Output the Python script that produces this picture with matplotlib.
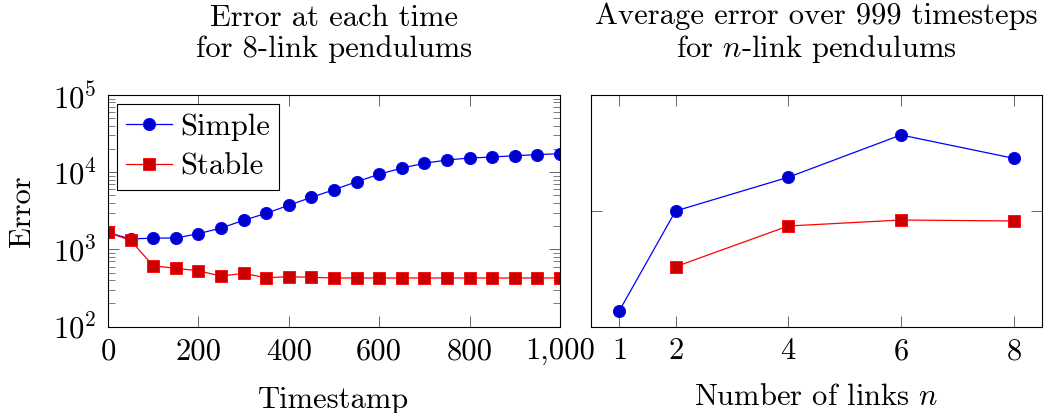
import matplotlib
matplotlib.use('Agg')
import matplotlib.pyplot as plt
import matplotlib.ticker as mticker
import numpy as np

plt.rcParams['font.family'] = 'serif'
plt.rcParams['font.serif'] = ['cmr10']
plt.rcParams['mathtext.fontset'] = 'cm'
plt.rcParams['axes.formatter.use_mathtext'] = True
plt.rcParams['font.size'] = 22

# left panel: error per timestamp, 8-link pendulums
timestamps = [0, 50, 100, 150, 200, 250, 300, 350, 400, 450, 500,
              550, 600, 650, 700, 750, 800, 850, 900, 950, 1000]
simple_err = [1660, 1365, 1405, 1405, 1600, 1890, 2380, 2940, 3730, 4730, 5930,
              7530, 9400, 11330, 13030, 14400, 15270, 15730, 16370, 16880, 17400]
stable_err = [1660, 1310, 615, 569, 530, 452, 490, 430, 444, 436, 427,
              427, 427, 427, 427, 427, 427, 427, 427, 427, 427]

# right panel: average error vs number of links
links_simple = [1, 2, 4, 6, 8]
avg_simple = [15.2, 1000, 4100, 24100, 9080]
links_stable = [2, 4, 6, 8]
avg_stable = [97, 533, 685, 658]

blue_line, blue_fill = '#0000ff', '#0000cc'
red_line, red_fill = '#ff0000', '#cc0000'

fig = plt.figure(figsize=(10.45, 4.13), dpi=100)
ax1 = fig.add_axes([0.1033, 0.2090, 0.4325, 0.561])
ax2 = fig.add_axes([0.5656, 0.2090, 0.4313, 0.561])

ax1.plot(timestamps, simple_err, color=blue_line, lw=0.9, marker='o', ms=8.8,
         mfc=blue_fill, mec=blue_line, mew=0.6, label='Simple')
ax1.plot(timestamps, stable_err, color=red_line, lw=0.9, marker='s', ms=8.0,
         mfc=red_fill, mec=red_line, mew=0.6, label='Stable')
ax1.set_yscale('log')
ax1.set_ylim(1e2, 1e5)
ax1.set_xlim(0, 1000)
ax1.set_xticks([0, 200, 400, 600, 800, 1000])
ax1.xaxis.set_major_formatter(mticker.FuncFormatter(lambda v, p: f'{int(v):,}'))
ax1.yaxis.set_major_locator(mticker.LogLocator(base=10, numticks=10))
ax1.yaxis.set_minor_locator(mticker.LogLocator(base=10, subs=np.arange(2, 10), numticks=20))
ax1.yaxis.set_minor_formatter(mticker.NullFormatter())
ax1.set_ylabel('Error', labelpad=12)
ax1.set_xlabel('Timestamp', labelpad=15)
ax1.set_title('Error at each time\nfor 8-link pendulums', fontsize=22, pad=27, linespacing=1.15)
leg = ax1.legend(loc='upper left', fancybox=False, edgecolor='black', framealpha=1,
                 handlelength=1.5, handletextpad=0.25, borderpad=0.3,
                 labelspacing=0.4, borderaxespad=0.3)
leg.get_frame().set_linewidth(0.8)

ax2.plot(links_simple, avg_simple, color=blue_line, lw=0.9, marker='o', ms=8.8,
         mfc=blue_fill, mec=blue_line, mew=0.6)
ax2.plot(links_stable, avg_stable, color=red_line, lw=0.9, marker='s', ms=8.0,
         mfc=red_fill, mec=red_line, mew=0.6)
ax2.set_yscale('log')
ax2.set_ylim(7.87, 128500)
ax2.set_xlim(0.5, 8.5)
ax2.set_xticks([1, 2, 4, 6, 8])
ax2.set_yticks([1e3])
ax2.yaxis.set_minor_locator(mticker.NullLocator())
ax2.yaxis.set_major_formatter(mticker.NullFormatter())
ax2.set_xlabel('Number of links $n$', labelpad=13)
ax2.set_title('Average error over 999 timesteps\nfor $n$-link pendulums', fontsize=22, pad=27,
              linespacing=1.15)

for ax in (ax1, ax2):
    ax.tick_params(which='major', direction='in', length=8, width=0.7, color='#666666',
                   top=True, right=True, pad=8)
    ax.tick_params(which='minor', direction='in', length=5, width=0.6, color='#666666',
                   top=True, right=True)
    for s in ax.spines.values():
        s.set_linewidth(0.8)

fig.savefig('out.png', dpi=100)
